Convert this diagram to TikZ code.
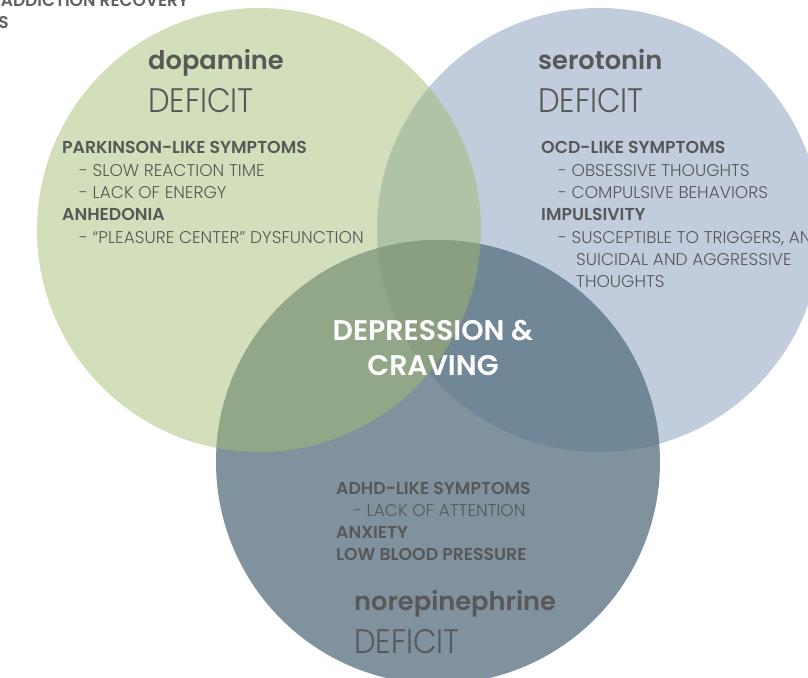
\documentclass[tikz,border=0pt]{standalone}
\usepackage{fontspec}
\setmainfont{Poppins}
\newfontfamily\pbold{Poppins SemiBold}
\newfontfamily\plight{Poppins Light}
\newfontfamily\plightn{Poppins Light}[FakeStretch=0.9]
\definecolor{cg}{RGB}{211,223,187}
\definecolor{cb}{RGB}{193,205,220}
\definecolor{cn}{RGB}{128,146,158}
\definecolor{cgb}{RGB}{176,196,165}
\definecolor{cgn}{RGB}{146,167,135}
\definecolor{cbn}{RGB}{111,135,150}
\definecolor{cgbn}{RGB}{137,159,128}
\definecolor{txt}{RGB}{88,88,88}
\tikzset{
  lbl/.style={anchor=base west, inner sep=0pt, text=txt},
  ntname/.style={lbl, font=\pbold\fontsize{25.7}{28}\selectfont},
  deficit/.style={lbl, font=\plightn\fontsize{34}{36}\selectfont},
  hdline/.style={lbl, font=\pbold\fontsize{17.3}{19}\selectfont},
  itm/.style={lbl, font=\plight\fontsize{17}{19}\selectfont},
  ctext/.style={anchor=base, inner sep=0pt, text=white, font=\pbold\fontsize{28.4}{30}\selectfont},
}
\begin{document}
\begin{tikzpicture}[x=1pt,y=-1pt]
\useasboundingbox (0,0) rectangle (808,677);
\clip (0,0) rectangle (808,677);
\coordinate (G) at (259,230);
\coordinate (B) at (599,230);
\coordinate (N) at (438,462);
% circles
\fill[cg] (G) circle (222pt);
\fill[cb] (B) circle (222pt);
\fill[cn] (N) circle (222pt);
\begin{scope}
  \clip (G) circle (222pt);
  \fill[cgb] (B) circle (222pt);
  \fill[cgn] (N) circle (222pt);
  \clip (B) circle (222pt);
  \fill[cgbn] (N) circle (222pt);
\end{scope}
\begin{scope}
  \clip (B) circle (222pt);
  \clip (N) circle (222pt);
  \fill[cbn, even odd rule] (0,0) rectangle (808,677) (G) circle (222pt);
\end{scope}
% top-left fragments (cut off at the edge, as in the reference)
\node[lbl, font=\pbold\fontsize{17}{19}\selectfont, text=black!62, anchor=base east] (hdr) at (189,7) {ADDICTION RECOVERY};
\node[lbl, font=\pbold\fontsize{17}{19}\selectfont, text=black!62, anchor=base east] (hdr2) at (9,29) {S};
% dopamine
\node[ntname] (dn) at (148,70) {dopamine};
\node[deficit] (dd) at (148,112) {DEFICIT};
\node[hdline] (d1) at (62,153) {PARKINSON-LIKE SYMPTOMS};
\node[itm] (d2) at (79,176) {- SLOW REACTION TIME};
\node[itm] (d3) at (79,198) {- LACK OF ENERGY};
\node[hdline] (d4) at (62,220) {ANHEDONIA};
\node[itm] (d5) at (79,243) {- “PLEASURE CENTER” DYSFUNCTION};
% serotonin
\node[ntname] (sn) at (538,70) {serotonin};
\node[deficit] (sd) at (538,112) {DEFICIT};
\node[hdline] (s1) at (541,153) {OCD-LIKE SYMPTOMS};
\node[itm] (s2) at (558,176) {- OBSESSIVE THOUGHTS};
\node[itm] (s3) at (558,198) {- COMPULSIVE BEHAVIORS};
\node[hdline] (s4) at (541,220) {IMPULSIVITY};
\node[itm] (s5) at (558,243) {- SUSCEPTIBLE TO TRIGGERS, AND};
\node[itm] (s6) at (576,265) {SUICIDAL AND AGGRESSIVE};
\node[itm] (s7) at (576,287) {THOUGHTS};
% center
\node[ctext] (c1) at (433,340) {DEPRESSION \&};
\node[ctext] (c2) at (433,375) {CRAVING};
% norepinephrine
\node[hdline] (n1) at (336,494) {ADHD-LIKE SYMPTOMS};
\node[itm] (n2) at (353,516) {- LACK OF ATTENTION};
\node[hdline] (n3) at (336,538) {ANXIETY};
\node[hdline] (n4) at (336,560) {LOW BLOOD PRESSURE};
\node[ntname] (nn) at (354,610) {norepinephrine};
\node[deficit] (nd) at (354,653) {DEFICIT};
\end{tikzpicture}
\end{document}
